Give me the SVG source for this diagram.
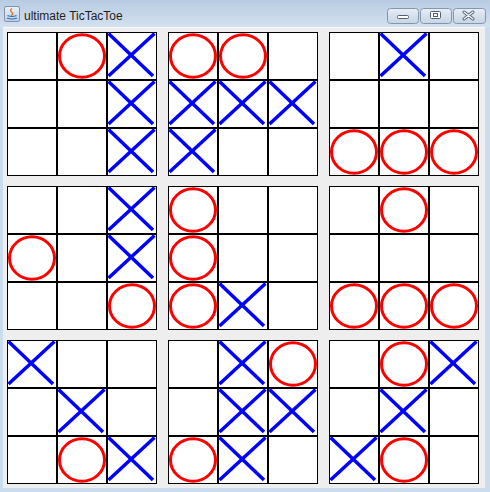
<svg xmlns="http://www.w3.org/2000/svg" width="490" height="492" viewBox="0 0 490 492">
<defs>
<linearGradient id="tb" x1="0" y1="0" x2="0" y2="1"><stop offset="0" stop-color="#b8cbe2"/><stop offset="1" stop-color="#d3e1f0"/></linearGradient>
<linearGradient id="btn" x1="0" y1="0" x2="0" y2="1"><stop offset="0" stop-color="#e8eef6"/><stop offset="0.5" stop-color="#d6e0ec"/><stop offset="1" stop-color="#c8d5e5"/></linearGradient>
<linearGradient id="ico" x1="0" y1="0" x2="0" y2="1"><stop offset="0" stop-color="#eaf2fb"/><stop offset="1" stop-color="#b9cfe8"/></linearGradient>
<style>
.cell{fill:#ffffff;stroke:#000000;stroke-width:1;shape-rendering:crispEdges}
.o{fill:none;stroke:#ff0000;stroke-width:3}
.x{stroke:#0000ff;stroke-width:3.5;stroke-linecap:butt}
.btn{fill:url(#btn);stroke:#8496ae;stroke-width:1}
.glyph{fill:#ffffff;stroke:#4f5f78;stroke-width:1}
.title{font-family:"Liberation Sans",Arial,sans-serif;font-size:12px;fill:#1e1e1e}
</style>
<g id="grid">
<rect class="cell" x="0.5" y="0.5" width="49" height="47"/>
<rect class="cell" x="50.5" y="0.5" width="49" height="47"/>
<rect class="cell" x="100.5" y="0.5" width="49" height="47"/>
<rect class="cell" x="0.5" y="48.5" width="49" height="47"/>
<rect class="cell" x="50.5" y="48.5" width="49" height="47"/>
<rect class="cell" x="100.5" y="48.5" width="49" height="47"/>
<rect class="cell" x="0.5" y="96.5" width="49" height="47"/>
<rect class="cell" x="50.5" y="96.5" width="49" height="47"/>
<rect class="cell" x="100.5" y="96.5" width="49" height="47"/>
</g>
<ellipse id="o" class="o" cx="25" cy="24" rx="22.5" ry="21.2"/>
<g id="x" class="x"><line x1="1.5" y1="1.5" x2="46" y2="44"/><line x1="47.5" y1="1.5" x2="1.5" y2="44"/></g>
</defs>

<g id="window">
<rect x="0" y="0" width="490" height="492" fill="#cbdcee"/>
<rect x="0" y="0" width="490" height="27" fill="url(#tb)"/>
<rect x="3" y="27" width="482" height="461" fill="#eeeeee"/>
<line x1="3" y1="27.5" x2="485" y2="27.5" stroke="#f6f8fb" stroke-width="1"/>
</g>

<g id="titlebar">
<rect x="4.5" y="6.5" width="15" height="15" rx="1.5" fill="url(#ico)" stroke="#7f93ad"/>
<path d="M12 8.5 q-3 2 0 4 q2 1.5 -1 3" fill="none" stroke="#e07020" stroke-width="1.3"/>
<path d="M7.5 15.5 q4.5 2 9 0 M7 18 q5 2 10 0" fill="none" stroke="#3c6ea8" stroke-width="1.2"/>
<text class="title" x="24" y="20">ultimate TicTacToe</text>
<rect class="btn" x="387.5" y="8.5" width="31" height="15" rx="3"/>
<rect class="btn" x="420.5" y="8.5" width="31" height="15" rx="3"/>
<rect class="btn" x="453.5" y="8.5" width="32" height="15" rx="3"/>
<rect class="glyph" x="397.5" y="15.5" width="11" height="3" rx="1"/>
<rect class="glyph" x="430.5" y="11.5" width="10" height="7" rx="1"/>
<rect x="433.5" y="13.5" width="4" height="3" fill="none" stroke="#4f5f78" stroke-width="1"/>
<path d="M464 12 L473 19 M473 12 L464 19" stroke="#4f5f78" stroke-width="3" stroke-linecap="round"/>
<path d="M464 12 L473 19 M473 12 L464 19" stroke="#ffffff" stroke-width="1.2" stroke-linecap="round"/>
</g>

<g id="connectors"></g>

<g id="board1" transform="translate(7,32)">
<use href="#grid"/>
<use href="#o" x="50" y="0"/>
<use href="#x" x="100" y="0"/>
<use href="#x" x="100" y="48"/>
<use href="#x" x="100" y="96"/>
</g>
<g id="board2" transform="translate(168,32)">
<use href="#grid"/>
<use href="#o" x="0" y="0"/>
<use href="#o" x="50" y="0"/>
<use href="#x" x="0" y="48"/>
<use href="#x" x="50" y="48"/>
<use href="#x" x="100" y="48"/>
<use href="#x" x="0" y="96"/>
</g>
<g id="board3" transform="translate(329,32)">
<use href="#grid"/>
<use href="#x" x="50" y="0"/>
<use href="#o" x="0" y="96"/>
<use href="#o" x="50" y="96"/>
<use href="#o" x="100" y="96"/>
</g>
<g id="board4" transform="translate(7,186)">
<use href="#grid"/>
<use href="#x" x="100" y="0"/>
<use href="#o" x="0" y="48"/>
<use href="#x" x="100" y="48"/>
<use href="#o" x="100" y="96"/>
</g>
<g id="board5" transform="translate(168,186)">
<use href="#grid"/>
<use href="#o" x="0" y="0"/>
<use href="#o" x="0" y="48"/>
<use href="#o" x="0" y="96"/>
<use href="#x" x="50" y="96"/>
</g>
<g id="board6" transform="translate(329,186)">
<use href="#grid"/>
<use href="#o" x="50" y="0"/>
<use href="#o" x="0" y="96"/>
<use href="#o" x="50" y="96"/>
<use href="#o" x="100" y="96"/>
</g>
<g id="board7" transform="translate(7,340)">
<use href="#grid"/>
<use href="#x" x="0" y="0"/>
<use href="#x" x="50" y="48"/>
<use href="#o" x="50" y="96"/>
<use href="#x" x="100" y="96"/>
</g>
<g id="board8" transform="translate(168,340)">
<use href="#grid"/>
<use href="#x" x="50" y="0"/>
<use href="#o" x="100" y="0"/>
<use href="#x" x="50" y="48"/>
<use href="#x" x="100" y="48"/>
<use href="#o" x="0" y="96"/>
<use href="#x" x="50" y="96"/>
</g>
<g id="board9" transform="translate(329,340)">
<use href="#grid"/>
<use href="#o" x="50" y="0"/>
<use href="#x" x="100" y="0"/>
<use href="#x" x="50" y="48"/>
<use href="#x" x="0" y="96"/>
<use href="#o" x="50" y="96"/>
</g>
</svg>
